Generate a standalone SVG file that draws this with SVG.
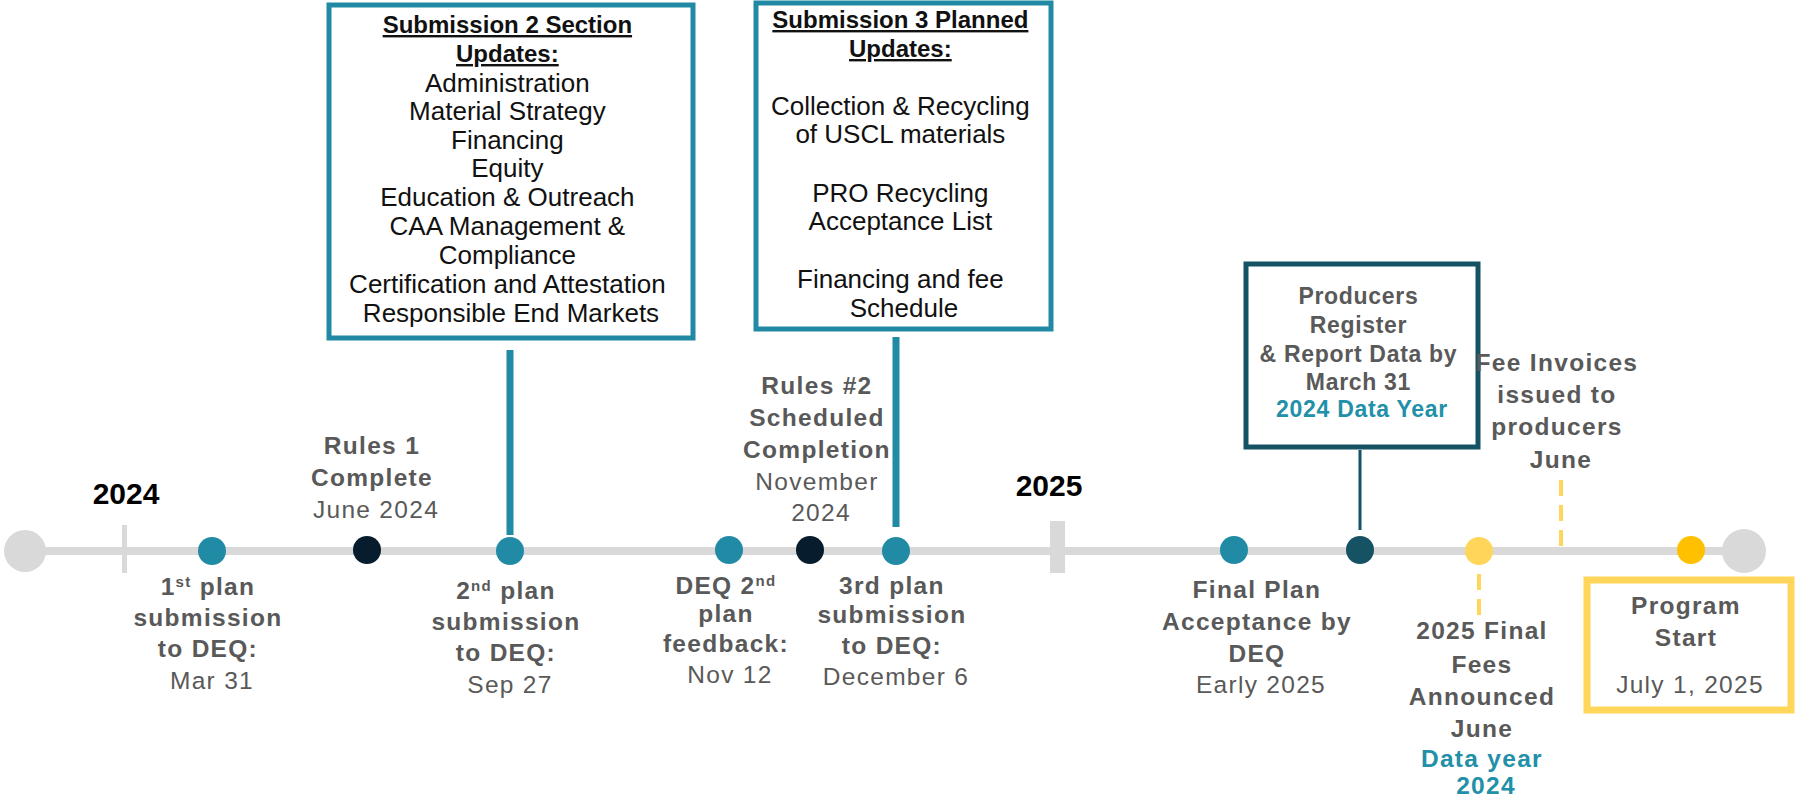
<svg xmlns="http://www.w3.org/2000/svg" width="1797" height="800" viewBox="0 0 1797 800">
<style>
.box{font-family:"Liberation Sans",Arial,sans-serif;font-size:26px;fill:#111;text-anchor:middle}
.ttl{font-weight:bold;text-decoration:underline;font-size:24px}
.lb{font-family:"Liberation Sans",Arial,sans-serif;font-size:24.5px;fill:#595959;text-anchor:middle;letter-spacing:1.3px}
.pb{font-family:"Liberation Sans",Arial,sans-serif;font-size:23px;fill:#595959;text-anchor:middle;letter-spacing:0.7px;font-weight:bold}
.b{font-weight:bold}
.tl{fill:#2190A8;font-weight:bold}
.yr{font-family:"Liberation Sans",Arial,sans-serif;font-size:30px;font-weight:bold;fill:#000;text-anchor:middle}
.teal{fill:#218BA6}
.navy{fill:#071C2C}
.dteal{fill:#155263}
.dash{stroke:#FFD65A;stroke-width:4;stroke-dasharray:16 9}
</style>
<rect width="1797" height="800" fill="#fff"/>
<g id="timeline">
<line x1="25" y1="551" x2="1744" y2="551" stroke="#D9D9D9" stroke-width="8"/>
<circle cx="25" cy="551" r="21" fill="#D9D9D9"/>
<circle cx="1744" cy="551" r="22" fill="#D9D9D9"/>
<rect x="122" y="525" width="5" height="48" fill="#D9D9D9"/>
<rect x="1050" y="521" width="15" height="52" fill="#D9D9D9"/>
<text class="yr" x="126" y="504">2024</text>
<text class="yr" x="1049" y="496">2025</text>
</g>
<g id="connectors">
<line x1="510" y1="350" x2="510" y2="535" stroke="#218BA6" stroke-width="7"/>
<line x1="896" y1="337" x2="896" y2="527" stroke="#218BA6" stroke-width="7"/>
<line x1="1360" y1="450" x2="1360" y2="530" stroke="#155263" stroke-width="3"/>
<line class="dash" x1="1479" y1="574" x2="1479" y2="620"/>
<line class="dash" x1="1561" y1="480" x2="1561" y2="546"/>
</g>
<g id="sub2box">
<rect x="329" y="5" width="364" height="333" fill="#fff" stroke="#2189A4" stroke-width="5"/>
<text class="box" x="511">
<tspan class="ttl" x="511" y="33">Submission 2 Section</tspan>
<tspan class="ttl" x="511" y="62">Updates:</tspan>
<tspan x="511" y="92">Administration</tspan>
<tspan x="511" y="120">Material Strategy</tspan>
<tspan x="511" y="149">Financing</tspan>
<tspan x="511" y="177">Equity</tspan>
<tspan x="511" y="206">Education &amp; Outreach</tspan>
<tspan x="511" y="235">CAA Management &amp;</tspan>
<tspan x="511" y="264">Compliance</tspan>
<tspan x="511" y="293">Certification and Attestation</tspan>
<tspan x="511" y="322">Responsible End Markets</tspan>
</text>
</g>
<g id="sub3box">
<rect x="756" y="3" width="295" height="326" fill="#fff" stroke="#2189A4" stroke-width="5"/>
<text class="box" x="904">
<tspan class="ttl" x="904" y="28">Submission 3 Planned</tspan>
<tspan class="ttl" x="904" y="57">Updates:</tspan>
<tspan x="904" y="115">Collection &amp; Recycling</tspan>
<tspan x="904" y="143">of USCL materials</tspan>
<tspan x="904" y="202">PRO Recycling</tspan>
<tspan x="904" y="230">Acceptance List</tspan>
<tspan x="904" y="288">Financing and fee</tspan>
<tspan x="904" y="317">Schedule</tspan>
</text>
</g>
<g id="producers">
<rect x="1246" y="264" width="232" height="183" fill="#fff" stroke="#155263" stroke-width="5"/>
<text class="pb" x="1362">
<tspan x="1362" y="304">Producers</tspan>
<tspan x="1362" y="333">Register</tspan>
<tspan x="1362" y="362">&amp; Report Data by</tspan>
<tspan x="1362" y="390">March 31</tspan>
<tspan class="tl" x="1362" y="417">2024 Data Year</tspan>
</text>
<circle cx="1360" cy="550" r="14" class="dteal"/>
</g>
<g id="plan1">
<circle cx="212" cy="551" r="14" class="teal"/>
<text class="lb" x="212">
<tspan class="b" x="212" y="595">1<tspan font-size="15" dy="-8">st</tspan><tspan dy="8"> plan</tspan></tspan>
<tspan class="b" x="212" y="626">submission</tspan>
<tspan class="b" x="212" y="657">to DEQ:</tspan>
<tspan x="212" y="689">Mar 31</tspan>
</text>
</g>
<g id="rules1">
<circle cx="367" cy="550" r="14" class="navy"/>
<text class="lb" x="376">
<tspan class="b" x="376" y="454">Rules 1</tspan>
<tspan class="b" x="376" y="486">Complete</tspan>
<tspan x="376" y="518">June 2024</tspan>
</text>
</g>
<g id="plan2">
<circle cx="510" cy="551" r="14" class="teal"/>
<text class="lb" x="510">
<tspan class="b" x="510" y="599">2<tspan font-size="15" dy="-8">nd</tspan><tspan dy="8"> plan</tspan></tspan>
<tspan class="b" x="510" y="630">submission</tspan>
<tspan class="b" x="510" y="661">to DEQ:</tspan>
<tspan x="510" y="693">Sep 27</tspan>
</text>
</g>
<g id="feedback">
<circle cx="729" cy="550" r="14" class="teal"/>
<text class="lb" x="730">
<tspan class="b" x="730" y="594">DEQ 2<tspan font-size="15" dy="-8">nd</tspan></tspan>
<tspan class="b" x="730" y="622">plan</tspan>
<tspan class="b" x="730" y="652">feedback:</tspan>
<tspan x="730" y="683">Nov 12</tspan>
</text>
</g>
<g id="rules2">
<circle cx="810" cy="550" r="14" class="navy"/>
<text class="lb" x="821">
<tspan class="b" x="821" y="394">Rules #2</tspan>
<tspan class="b" x="821" y="426">Scheduled</tspan>
<tspan class="b" x="821" y="458">Completion</tspan>
<tspan x="821" y="490">November</tspan>
<tspan x="821" y="521">2024</tspan>
</text>
</g>
<g id="plan3">
<circle cx="896" cy="551" r="14" class="teal"/>
<text class="lb" x="896">
<tspan class="b" x="896" y="594">3rd plan</tspan>
<tspan class="b" x="896" y="623">submission</tspan>
<tspan class="b" x="896" y="654">to DEQ:</tspan>
<tspan x="896" y="685">December 6</tspan>
</text>
</g>
<g id="final">
<circle cx="1234" cy="550" r="14" class="teal"/>
<text class="lb" x="1261">
<tspan class="b" x="1261" y="598">Final Plan</tspan>
<tspan class="b" x="1261" y="630">Acceptance by</tspan>
<tspan class="b" x="1261" y="662">DEQ</tspan>
<tspan x="1261" y="693">Early 2025</tspan>
</text>
</g>
<g id="fees">
<circle cx="1479" cy="551" r="14" fill="#FFD65A"/>
<text class="lb" x="1486">
<tspan class="b" x="1486" y="639">2025 Final</tspan>
<tspan class="b" x="1486" y="673">Fees</tspan>
<tspan class="b" x="1486" y="705">Announced</tspan>
<tspan class="b" x="1486" y="737">June</tspan>
<tspan class="tl" x="1486" y="767">Data year</tspan>
<tspan class="tl" x="1486" y="794">2024</tspan>
</text>
</g>
<g id="invoices">
<text class="lb b" x="1561">
<tspan x="1561" y="371">Fee Invoices</tspan>
<tspan x="1561" y="403">issued to</tspan>
<tspan x="1561" y="435">producers</tspan>
<tspan x="1561" y="468">June</tspan>
</text>
</g>
<g id="start">
<circle cx="1691" cy="550" r="14" fill="#FFC000"/>
<rect x="1587" y="580" width="204" height="130" fill="#fff" stroke="#FFD65A" stroke-width="7"/>
<text class="lb" x="1690">
<tspan class="b" x="1690" y="614">Program</tspan>
<tspan class="b" x="1690" y="646">Start</tspan>
<tspan x="1690" y="693">July 1, 2025</tspan>
</text>
</g>
</svg>
